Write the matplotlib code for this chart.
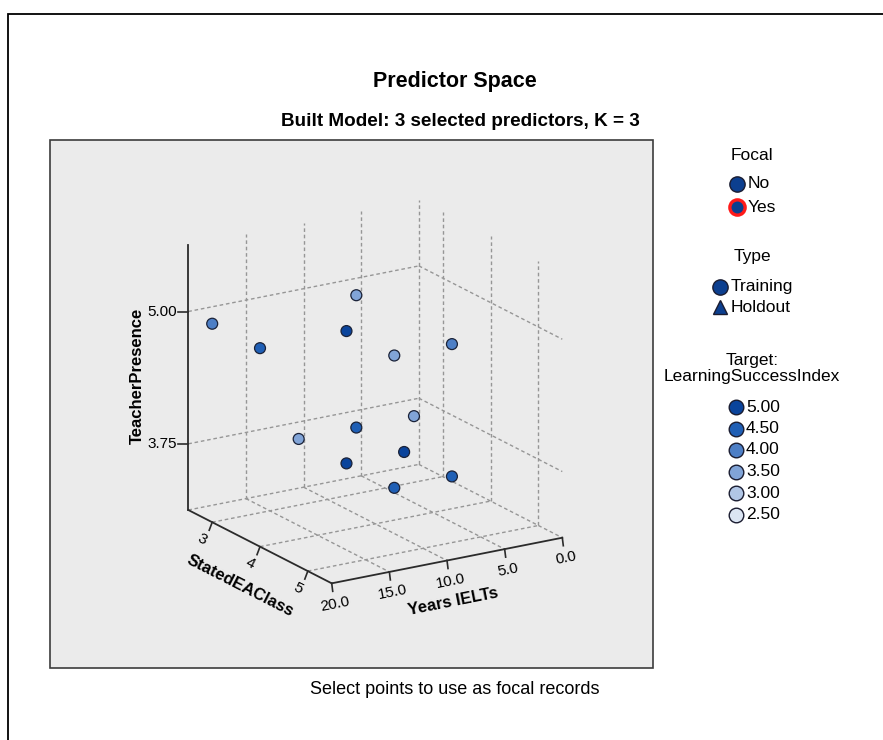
import numpy as np
import matplotlib
matplotlib.use('Agg')
import matplotlib.pyplot as plt
from matplotlib.colors import LinearSegmentedColormap, Normalize
from matplotlib.patches import Rectangle

plt.rcParams['font.family'] = ['Liberation Sans', 'DejaVu Sans']

# ---------------- data ----------------
years_ielts = [20.0, 20.0, 7.5, 12.5, 12.5, 7.5, 12.5, 7.5, 2.5, 12.5, 7.5, 12.5, 7.5]
stated_ea_class = [3, 4, 3, 4, 5, 5, 3, 3, 3, 4, 4, 5, 5]
teacher_presence = [5.0, 5.0, 5.0, 5.0, 5.0, 5.0, 3.75, 3.75, 3.75, 3.75, 3.75, 3.75, 3.75]
learning_success = [4.0, 4.5, 3.5, 5.0, 3.5, 4.0, 3.5, 4.5, 3.5, 5.0, 5.0, 4.5, 4.5]

years_ticks = [20.0, 15.0, 10.0, 5.0, 0.0]
years_tick_labels = ['20.0', '15.0', '10.0', '5.0', '0.0']
class_ticks = [3, 4, 5]
class_tick_labels = ['3', '4', '5']
tp_ticks = [5.00, 3.75]
tp_tick_labels = ['5.00', '3.75']
years_lim = (0.0, 20.0)
class_lim = (2.5, 5.5)
tp_lim = (3.125, 5.625)

target_levels = [5.00, 4.50, 4.00, 3.50, 3.00, 2.50]
target_level_labels = ['5.00', '4.50', '4.00', '3.50', '3.00', '2.50']
target_colors = ['#0a449c', '#1f5fb5', '#4d7fc6', '#81a4d7', '#b1c6e5', '#dbe5f3']

focal_labels = ['No', 'Yes']
type_labels = ['Training', 'Holdout']

# ---------------- figure ----------------
W, H = 883, 740
fig = plt.figure(figsize=(W / 100, H / 100), dpi=100)
bg = fig.add_axes([0, 0, 1, 1])
bg.set_xlim(0, W)
bg.set_ylim(H, 0)
bg.axis('off')

bg.plot([8, 8, W + 5], [H + 5, 14, 14], color='black', lw=1.3, solid_joinstyle='miter')
bg.add_patch(Rectangle((50, 140), 603, 528, facecolor='#ebebeb',
                       edgecolor='#3c3c3c', lw=1.2))

bg.text(455, 82, 'Predictor Space', ha='center', va='center',
        fontsize=15.5, fontweight='bold')
bg.text(460, 122, 'Built Model: 3 selected predictors, K = 3', ha='center',
        va='center', fontsize=13.6, fontweight='bold')
bg.text(455, 690, 'Select points to use as focal records', ha='center',
        va='center', fontsize=13)

# colour scale
lv_sorted = sorted(zip(target_levels, target_colors))
lo, hi = lv_sorted[0][0], lv_sorted[-1][0]
cmap = LinearSegmentedColormap.from_list(
    'lsi', [((v - lo) / (hi - lo), c) for v, c in lv_sorted])
norm = Normalize(lo, hi)

# ---------------- legend ----------------
navy = '#0c3f8f'
edge = '#1a1c30'
leg_fs = 12.5
bg.text(752, 155, 'Focal', ha='center', va='center', fontsize=leg_fs)
for i, lab in enumerate(focal_labels):
    y = 184 + i * 23
    if lab == 'Yes':
        bg.plot([737], [y], marker='o', ms=11, mfc=navy, mec='#ff1a1a', mew=2.4)
    else:
        bg.plot([737], [y], marker='o', ms=11, mfc=navy, mec=edge, mew=1)
    bg.text(748, y, lab, ha='left', va='center', fontsize=leg_fs)

bg.text(752, 257, 'Type', ha='center', va='center', fontsize=leg_fs)
for i, lab in enumerate(type_labels):
    y = 287 + i * 20
    mk = 'o' if lab == 'Training' else '^'
    bg.plot([719.5], [y], marker=mk, ms=11 if mk == 'o' else 10, mfc=navy,
            mec=edge, mew=1)
    bg.text(731, y, lab, ha='left', va='center', fontsize=leg_fs)

bg.text(752, 360, 'Target:', ha='center', va='center', fontsize=leg_fs)
bg.text(752, 377, 'LearningSuccessIndex', ha='center', va='center', fontsize=leg_fs)
for i, (lv, lab) in enumerate(zip(target_levels, target_level_labels)):
    y = 407 + i * 21.5
    bg.plot([736], [y], marker='o', ms=10.5, mfc=cmap(norm(lv)), mec=edge, mew=1)
    bg.text(746, y, lab, ha='left', va='center', fontsize=leg_fs)

# ---------------- 3D axes ----------------
ax = fig.add_axes([0.1, 0.15, 0.6, 0.6], projection='3d', proj_type='ortho',
                  computed_zorder=False)
ax.set_axis_off()
ax.set_facecolor((0, 0, 0, 0))
ax.patch.set_alpha(0)
ax.set_xlim(*years_lim)
ax.set_ylim(*class_lim)
ax.set_zlim(*tp_lim)
ax.set_box_aspect((1, 1, 1.028))
ax.view_init(elev=18.54, azim=58.12)

fig.canvas.draw()


def proj_disp(p):
    M = ax.M
    v = M @ np.array([p[0], p[1], p[2], 1.0])
    d = ax.transData.transform((v[0] / v[3], v[1] / v[3]))
    return np.array(d)


# fit the axes so the box lands where the reference box is
A = proj_disp((years_lim[1], class_lim[0], tp_lim[0]))
C = proj_disp((years_lim[0], class_lim[1], tp_lim[0]))
A_t = np.array([188.3, H - 510.0])
C_t = np.array([562.3, H - 537.7])
bb = ax.get_position().transformed(fig.transFigure)
c0 = np.array([(bb.x0 + bb.x1) / 2, (bb.y0 + bb.y1) / 2])
L0 = bb.width
s = np.linalg.norm(C_t - A_t) / np.linalg.norm(C - A)
L = L0 * s
c_new = A_t - s * (A - c0)
ax.set_position([(c_new[0] - L / 2) / W, (c_new[1] - L / 2) / H, L / W, L / H])
fig.canvas.draw()


def to_px(p):
    d = proj_disp(p)
    return np.array([d[0], H - d[1]])  # figure pixels, y down


def offset_point(base, screen_off, pair):
    base = np.array(base, float)
    p0 = to_px(base)
    cols = []
    for k in pair:
        dv = np.zeros(3)
        dv[k] = 1.0
        cols.append(to_px(base + dv) - p0)
    coef = np.linalg.solve(np.column_stack(cols), np.array(screen_off, float))
    out = base.copy()
    out[pair[0]] += coef[0]
    out[pair[1]] += coef[1]
    return out


def screen_angle(base, k):
    base = np.array(base, float)
    dv = np.zeros(3)
    dv[k] = 1.0
    d = to_px(base + dv) - to_px(base)
    ang = np.degrees(np.arctan2(-d[1], d[0]))
    if ang > 90:
        ang -= 180
    elif ang < -90:
        ang += 180
    return ang


def label_at(p3, text, rot=0.0, **kw):
    q = to_px(p3)
    bg.text(q[0], q[1], text, rotation=rot, rotation_mode='anchor', **kw)


grid_kw = dict(color='#969696', lw=1.0, ls=(0, (2.6, 2.0)), clip_on=False, zorder=1)
y0, y1 = years_lim
c0_, c1_ = class_lim
z0, z1 = tp_lim

# left wall (class = min)
for yv in years_ticks:
    if yv != years_lim[1]:
        ax.plot([yv, yv], [c0_, c0_], [z0, z1], **grid_kw)
for tv in tp_ticks:
    ax.plot([y1, y0], [c0_, c0_], [tv, tv], **grid_kw)
ax.plot([y1, y0], [c0_, c0_], [z0, z0], **grid_kw)
# right wall (years = min)
for cv in class_ticks:
    ax.plot([y0, y0], [cv, cv], [z0, z1], **grid_kw)
for tv in tp_ticks:
    ax.plot([y0, y0], [c0_, c1_], [tv, tv], **grid_kw)
ax.plot([y0, y0], [c0_, c1_], [z0, z0], **grid_kw)
# floor
for cv in class_ticks:
    ax.plot([y1, y0], [cv, cv], [z0, z0], **grid_kw)
for yv in years_ticks:
    if yv not in years_lim:
        ax.plot([yv, yv], [c0_, c1_], [z0, z0], **grid_kw)

# solid axes
ax_kw = dict(color='#2b2b2b', lw=1.3, clip_on=False, zorder=2)
ax.plot([y1, y1], [c0_, c0_], [z0, z1], **ax_kw)
ax.plot([y1, y1], [c0_, c1_], [z0, z0], **ax_kw)
ax.plot([y1, y0], [c1_, c1_], [z0, z0], **ax_kw)

tick_kw = dict(color='#2b2b2b', lw=1.2, clip_on=False, zorder=2)
tfs = 11
# teacher presence ticks
for tv, lab in zip(tp_ticks, tp_tick_labels):
    b = (y1, c0_, tv)
    e = offset_point(b, (-10, 0), (0, 1))
    ax.plot([b[0], e[0]], [b[1], e[1]], [b[2], e[2]], **tick_kw)
    q = offset_point(b, (-11, 0), (0, 1))
    label_at(q, lab, 0, ha='right', va='center', fontsize=tfs)
# class ticks
cls_rot = screen_angle((y1, 4, z0), 1)
for cv, lab in zip(class_ticks, class_tick_labels):
    b = (y1, cv, z0)
    e = offset_point(b, (-3, 8), (0, 2))
    ax.plot([b[0], e[0]], [b[1], e[1]], [b[2], e[2]], **tick_kw)
    q = offset_point(b, (-9.7, 17), (0, 2))
    label_at(q, lab, cls_rot, ha='center', va='center', fontsize=tfs)
# years ticks
yrs_rot = screen_angle((10, c1_, z0), 0)
for yv, lab in zip(years_ticks, years_tick_labels):
    b = (yv, c1_, z0)
    e = offset_point(b, (1, 8), (1, 2))
    ax.plot([b[0], e[0]], [b[1], e[1]], [b[2], e[2]], **tick_kw)
    q = offset_point(b, (3.4, 20.5), (1, 2))
    label_at(q, lab, yrs_rot, ha='center', va='center', fontsize=tfs)

# axis titles
lfs = 12
q = offset_point((y1, (c0_ + c1_) / 2, z0), (-20, 39.4), (0, 2))
label_at(q, 'StatedEAClass', cls_rot, ha='center', va='center',
         fontsize=lfs, fontweight='bold')
q = offset_point(((y0 + y1) / 2, c1_, z0), (6.3, 41.5), (1, 2))
label_at(q, 'Years IELTs', yrs_rot, ha='center', va='center',
         fontsize=lfs, fontweight='bold')
q = offset_point((y1, c0_, 4.39), (-51, 0), (0, 1))
label_at(q, 'TeacherPresence', 90, ha='center', va='center',
         fontsize=lfs, fontweight='bold')

# points
ax.scatter(years_ielts, stated_ea_class, teacher_presence,
           c=[cmap(norm(v)) for v in learning_success], s=62, marker='o',
           edgecolors='#1a2238', linewidths=0.9, depthshade=False, zorder=5,
           clip_on=False)

fig.savefig('out.png', dpi=100)
